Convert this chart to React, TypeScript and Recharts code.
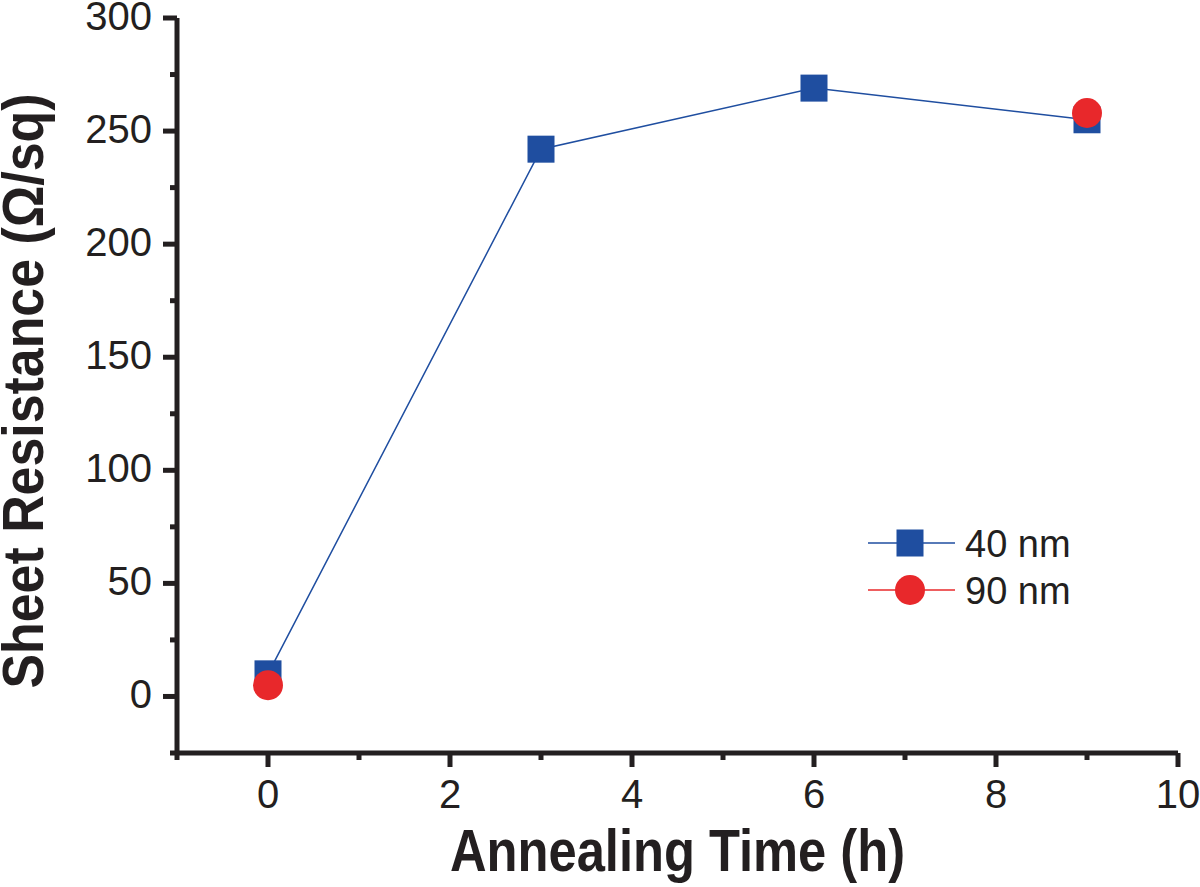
import React from "react";
import { ComposedChart, Line, Scatter, XAxis, YAxis, Label } from "recharts";

// annealing time (h) vs sheet resistance (ohm/sq)
const times40 = [0, 3, 6, 9];
const resistance40 = [10, 242, 269, 255];
const times90 = [0, 9];
const resistance90 = [5, 258];

const xTicks = [-1, 0, 1, 2, 3, 4, 5, 6, 7, 8, 9, 10];
const xLabels = [0, 2, 4, 6, 8, 10];
const yTicks = [-25, 0, 25, 50, 75, 100, 125, 150, 175, 200, 225, 250, 275, 300];
const yLabels = [0, 50, 100, 150, 200, 250, 300];

const BLUE = "#1f4ea0";
const RED = "#e8282b";
const INK = "#231f20";
const FONT = "'Liberation Sans', Arial, sans-serif";
const AXIS_W = 5;

const data40 = times40.map((t, i) => ({ x: t, y: resistance40[i] }));
const data90 = times90.map((t, i) => ({ x: t, y: resistance90[i] }));

function XTick({ x, y, payload }: any) {
  const major = xLabels.includes(payload.value);
  return (
    <g>
      <line x1={x} x2={x} y1={y} y2={y + (major ? 14 : 7)} stroke={INK} strokeWidth={AXIS_W} />
      {major && (
        <text x={x} y={y + 55} textAnchor="middle" fontSize={40} fontFamily={FONT} fill={INK}>
          {payload.value}
        </text>
      )}
    </g>
  );
}

function YTick({ x, y, payload }: any) {
  const major = yLabels.includes(payload.value);
  return (
    <g>
      <line x1={x} x2={x - (major ? 14 : 7)} y1={y} y2={y} stroke={INK} strokeWidth={AXIS_W} />
      {major && (
        <text x={x - 25} y={y + 12} textAnchor="end" fontSize={40} fontFamily={FONT} fill={INK}>
          {payload.value}
        </text>
      )}
    </g>
  );
}

function SquareDot({ cx, cy }: any) {
  if (cx == null || cy == null) return null;
  return <rect x={cx - 13.5} y={cy - 13.5} width={27} height={27} fill={BLUE} />;
}

function CircleDot({ cx, cy }: any) {
  if (cx == null || cy == null) return null;
  return <circle cx={cx} cy={cy} r={15} fill={RED} />;
}

function LegendBox() {
  const rows = [
    { label: "40 nm", color: BLUE, y: 543, square: true },
    { label: "90 nm", color: RED, y: 590, square: false },
  ];
  return (
    <svg width={1200} height={887} style={{ position: "absolute", left: 0, top: 0, pointerEvents: "none" }}>
      {rows.map((r) => (
        <g key={r.label}>
          <line x1={868} x2={955} y1={r.y} y2={r.y} stroke={r.color} strokeWidth={1.5} />
          {r.square ? (
            <rect x={910 - 13.5} y={r.y - 13.5} width={27} height={27} fill={r.color} />
          ) : (
            <circle cx={910} cy={r.y} r={15} fill={r.color} />
          )}
          <text x={965} y={r.y + 14} fontSize={38} fontFamily={FONT} fill={INK}>
            {r.label}
          </text>
        </g>
      ))}
    </svg>
  );
}

export default function App() {
  return (
    <div style={{ position: "absolute", left: 0, top: 0, width: 1200, height: 887, background: "#fff" }}>
      <ComposedChart width={1200} height={887} margin={{ top: 18, right: 22, bottom: 0, left: 0 }}>
        <XAxis
          xAxisId="b"
          dataKey="x"
          type="number"
          domain={[-1, 10]}
          ticks={xTicks}
          interval={0}
          height={134}
          tickSize={0}
          tickMargin={0}
          tickLine={false}
          axisLine={{ stroke: INK, strokeWidth: AXIS_W }}
          tick={<XTick />}
          allowDataOverflow
        >
          <Label
            content={({ viewBox }: any) => (
              <text
                x={viewBox.x + viewBox.width / 2}
                y={viewBox.y + 118}
                textAnchor="middle"
                fontSize={60}
                fontWeight="bold"
                fontFamily={FONT}
                fill={INK}
                textLength={455}
                lengthAdjust="spacingAndGlyphs"
              >
                Annealing Time (h)
              </text>
            )}
          />
        </XAxis>
        <XAxis
          xAxisId="t"
          orientation="top"
          type="number"
          domain={[-1, 10]}
          height={0}
          tick={false}
          tickLine={false}
          axisLine={{ stroke: INK, strokeWidth: AXIS_W }}
        />
        <YAxis
          yAxisId="l"
          type="number"
          domain={[-25, 300]}
          ticks={yTicks}
          interval={0}
          width={177}
          tickSize={0}
          tickMargin={0}
          tickLine={false}
          axisLine={{ stroke: INK, strokeWidth: AXIS_W }}
          tick={<YTick />}
          allowDataOverflow
        >
          <Label
            content={() => {
              const cx = 43;
              const cy = 391;
              return (
                <text
                  x={cx}
                  y={cy}
                  transform={`rotate(-90 ${cx} ${cy})`}
                  textAnchor="middle"
                  fontSize={58}
                  fontWeight="bold"
                  fontFamily={FONT}
                  fill={INK}
                  textLength={595}
                  lengthAdjust="spacingAndGlyphs"
                >
                  Sheet Resistance (Ω/sq)
                </text>
              );
            }}
          />
        </YAxis>
        <YAxis
          yAxisId="r"
          orientation="right"
          type="number"
          domain={[-25, 300]}
          width={0}
          tick={false}
          tickLine={false}
          axisLine={{ stroke: INK, strokeWidth: AXIS_W }}
        />
        <Line
          xAxisId="b"
          yAxisId="l"
          data={data40}
          dataKey="y"
          stroke={BLUE}
          strokeWidth={1.5}
          dot={<SquareDot />}
          activeDot={false}
          isAnimationActive={false}
        />
        <Scatter
          xAxisId="b"
          yAxisId="l"
          data={data90}
          dataKey="y"
          fill={RED}
          shape={<CircleDot />}
          isAnimationActive={false}
        />
      </ComposedChart>
      <LegendBox />
    </div>
  );
}
